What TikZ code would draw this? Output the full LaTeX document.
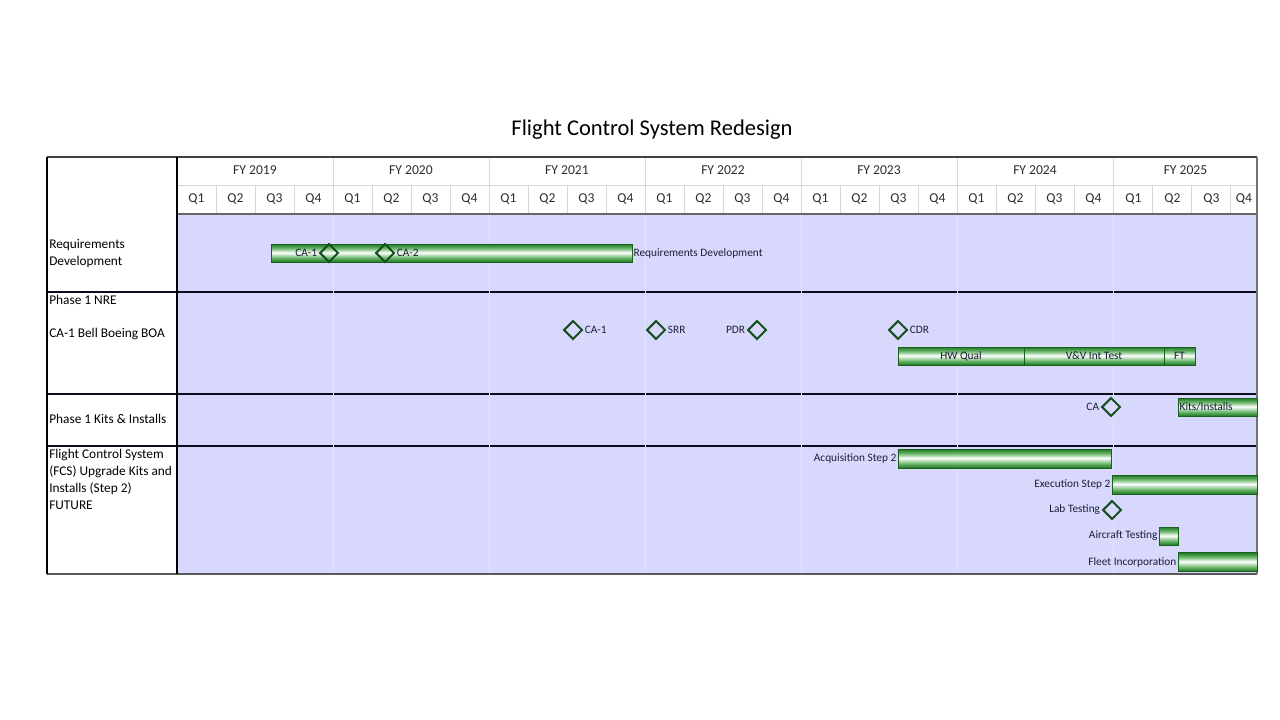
\documentclass[tikz,border=0pt]{standalone}
\usepackage{fontspec}
\setmainfont{Carlito}
\usetikzlibrary{shapes.geometric}
\definecolor{lav}{RGB}{216,216,252}
\definecolor{gdark}{RGB}{28,118,36}
\definecolor{gmid}{RGB}{110,185,110}
\definecolor{gline}{RGB}{25,95,30}
\definecolor{mline}{RGB}{22,80,32}
\definecolor{hgrid}{RGB}{215,215,215}
\definecolor{bgrid}{RGB}{228,228,248}
\definecolor{thick}{RGB}{12,12,28}
\definecolor{lbltxt}{RGB}{30,30,55}
\definecolor{hdrtxt}{RGB}{45,45,45}
\pgfdeclareverticalshading{barshade}{100bp}{color(0bp)=(gdark); color(25bp)=(gdark); color(37bp)=(gmid); color(51bp)=(white); color(63bp)=(gmid); color(75bp)=(gdark); color(100bp)=(gdark)}
\tikzset{
  barbox/.style={draw=gline, line width=0.6pt, shading=barshade, inner sep=0pt, outer sep=0pt},
  ms/.style={shape=diamond, draw=mline, line width=1.5pt, inner sep=0pt, minimum width=14pt, minimum height=14pt},
  blabel/.style={font=\fontsize{8.5}{10}\selectfont, text=lbltxt, inner sep=1pt},
  hdr/.style={font=\fontsize{10.2}{12}\selectfont, text=hdrtxt, inner sep=0pt},
  rowlbl/.style={font=\fontsize{10}{12.75}\selectfont, anchor=north west, align=left, inner sep=0pt, text=black},
  thickline/.style={draw=thick, line width=2.2pt},
}
\newcommand\ganttbar[5]{% name, x1, x2, yc, height
  \node[barbox, minimum width={(#3-#2)*0.75pt}, minimum height={#5*0.75pt}] (#1) at ({(#2+#3)/2},#4) {};}
\begin{document}
\begin{tikzpicture}[x=0.75pt,y=-0.75pt]
\useasboundingbox (0,0) rectangle (1280,720);
% title
\node[font=\fontsize{16.9}{20}\selectfont, text=black] (title) at (652,130) {Flight Control System Redesign};
% body background
\fill[lav] (177,214) rectangle (1257,574);
% header grid
\draw[hgrid, line width=0.6pt] (177,185) -- (1257,185);
\foreach \i in {1,2,3,5,6,7,9,10,11,13,14,15,17,18,19,21,22,23,25,26,27}{
  \draw[hgrid, line width=0.6pt] ({177+39*\i},185) -- ({177+39*\i},214);}
\foreach \i in {1,...,6}{
  \draw[hgrid, line width=0.6pt] ({177+156*\i},157) -- ({177+156*\i},214);}
% thick row separators
\foreach \yy in {292,394,446}{
  \draw[thickline] (47,\yy) -- (1257,\yy);}
% body year gridlines
\foreach \i in {1,...,6}{
  \draw[bgrid, line width=0.5pt] ({177+156*\i},214) -- ({177+156*\i},574);}
% header/body separator and borders
\draw[gray!80!black, line width=1pt] (177,214) -- (1257,214);
\draw[gray!70!black, line width=0.8pt] (47,574) -- (1257,574);
\draw[black!75, line width=0.8pt] (47,157) -- (1257,157);
\draw[black!55, line width=0.8pt] (1257,157) -- (1257,574);
\draw[black, line width=0.9pt] (47,157) -- (47,574);
\draw[black, line width=0.9pt] (177,157) -- (177,574);
% header labels
\foreach \y [count=\k from 0] in {2019,2020,2021,2022,2023,2024}{
  \node[hdr] (fy\y) at ({177+156*\k+78},170) {FY \y};
  \foreach \q in {1,2,3,4}{
    \node[hdr] (q\y\q) at ({177+156*\k+39*\q-19.5},199) {Q\q};}
}
\node[hdr] (fy2025) at (1185.5,170) {FY 2025};
\node[hdr] (q20251) at (1133.5,199) {Q1};
\node[hdr] (q20252) at (1172.5,199) {Q2};
\node[hdr] (q20253) at (1211.5,199) {Q3};
\node[hdr] (q20254) at (1244,199) {Q4};
% row labels
\node[rowlbl] (r1) at (49,239) {Requirements\\Development};
\node[rowlbl] (r2a) at (49,295) {Phase 1 NRE};
\node[rowlbl] (r2b) at (49,328) {CA-1 Bell Boeing BOA};
\node[rowlbl] (r3) at (49,414) {Phase 1 Kits \& Installs};
\node[rowlbl] (r4) at (49,449) {Flight Control System\\(FCS) Upgrade Kits and\\Installs (Step 2)\\FUTURE};
% row 1
\ganttbar{reqbar}{271}{632}{253}{18}
\node[ms] (ca1a) at (329,253) {};
\node[ms] (ca2a) at (385,253) {};
\node[blabel, anchor=east] (ca1alab) at (ca1a.west) {CA-1};
\node[blabel, anchor=west] (ca2alab) at (ca2a.east) {CA-2};
\node[blabel, anchor=west] (reqlab) at (reqbar.east) {Requirements Development};
% row 2
\node[ms] (ca1b) at (573,330) {};
\node[blabel, anchor=west] (ca1blab) at (ca1b.east) {CA-1};
\node[ms] (srr) at (656,330) {};
\node[blabel, anchor=west] (srrlab) at (srr.east) {SRR};
\node[ms] (pdr) at (757,330) {};
\node[blabel, anchor=east] (pdrlab) at (pdr.west) {PDR};
\node[ms] (cdr) at (898,330) {};
\node[blabel, anchor=west] (cdrlab) at (cdr.east) {CDR};
\ganttbar{hwqual}{898}{1024}{356}{18}
\ganttbar{vv}{1024}{1164}{356}{18}
\ganttbar{ft}{1164}{1195}{356}{18}
\node[blabel] (hwlab) at (hwqual.center) {HW Qual};
\node[blabel] (vvlab) at (vv.center) {V\&V Int Test};
\node[blabel] (ftlab) at (ft.center) {FT};
% row 3
\node[ms] (ca3) at (1111,407) {};
\node[blabel, anchor=east] (ca3lab) at (ca3.west) {CA};
\ganttbar{kits}{1178}{1257}{407}{18}
\node[blabel, anchor=west] (kitslab) at (kits.west) {Kits/Installs};
% row 4
\ganttbar{acq}{898}{1111}{458.5}{19}
\node[blabel, anchor=east] (acqlab) at (acq.west) {Acquisition Step 2};
\ganttbar{exec}{1112}{1257}{484.5}{19}
\node[blabel, anchor=east] (execlab) at (exec.west) {Execution Step 2};
\node[ms] (lab) at (1112,510) {};
\node[blabel, anchor=east] (lablab) at (lab.west) {Lab Testing};
\ganttbar{acft}{1159}{1178}{536}{18}
\node[blabel, anchor=east] (acftlab) at (acft.west) {Aircraft Testing};
\ganttbar{fleet}{1178}{1257}{562}{19}
\node[blabel, anchor=east] (fleetlab) at (fleet.west) {Fleet Incorporation};
\end{tikzpicture}
\end{document}
